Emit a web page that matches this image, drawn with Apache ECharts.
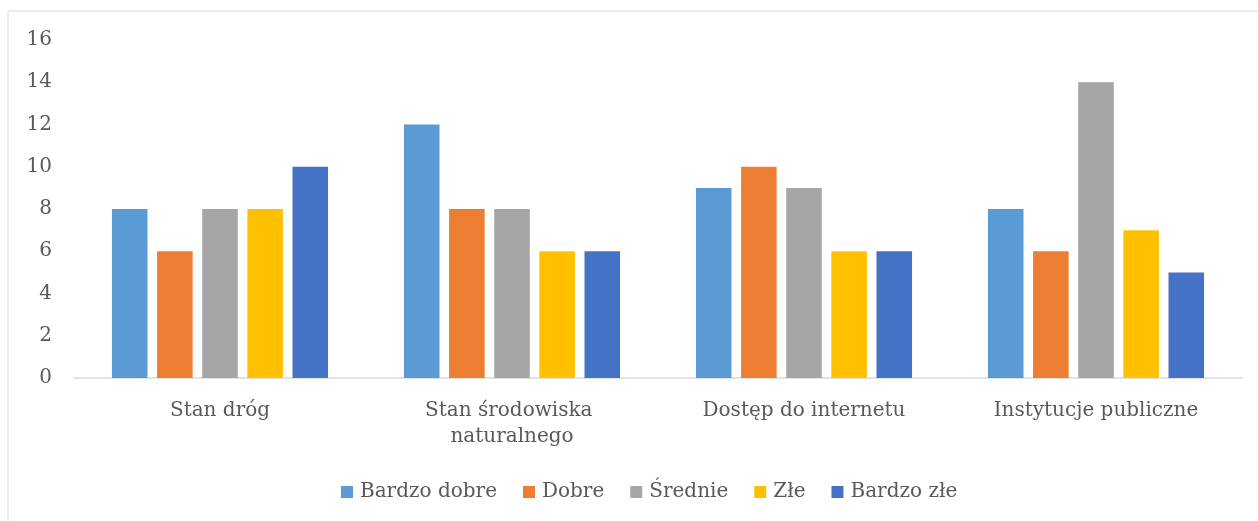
<!DOCTYPE html>
<html>
<head>
<meta charset="utf-8">
<script src="https://cdn.jsdelivr.net/npm/echarts@6/dist/echarts.min.js"></script>
<style>
	html, body { margin: 0; padding: 0; background: #fff; }
	#chart { width: 1258px; height: 521px; }
</style>
</head>
<body>
<div id="chart"></div>
<script>
var categories = ["Stan dróg", "Stan środowiska naturalnego", "Dostęp do internetu", "Instytucje publiczne"];
var seriesNames = ["Bardzo dobre", "Dobre", "Średnie", "Złe", "Bardzo złe"];
var bardzoDobre = [8, 12, 9, 8];
var dobre = [6, 8, 10, 6];
var srednie = [8, 8, 9, 14];
var zle = [8, 6, 6, 7];
var bardzoZle = [10, 6, 6, 5];
var yTicks = [0, 2, 4, 6, 8, 10, 12, 14, 16];

var colors = ["#5B9BD5", "#ED7D31", "#A5A5A5", "#FFC000", "#4472C4"];
var values = [bardzoDobre, dobre, srednie, zle, bardzoZle];
var font = "DejaVu Serif";

var chart = echarts.init(document.getElementById("chart"));

var series = [];
for (var i = 0; i < seriesNames.length; i++) {
	series.push({
		name: seriesNames[i],
		type: "bar",
		barGap: "27%",
		barCategoryGap: "26%",
		itemStyle: { color: colors[i] },
		data: values[i]
	});
}

chart.setOption({
	animation: false,
	color: colors,
	textStyle: { fontFamily: font, color: "#595959" },
	graphic: [
		{
			type: "rect",
			shape: { x: 8, y: 11, width: 1300, height: 600 },
			style: { fill: "none", stroke: "#d9d9d9", lineWidth: 1 }
		}
	],
	grid: {
		left: 74,
		right: 16,
		top: 40,
		bottom: 143
	},
	legend: {
		data: seriesNames,
		bottom: 14,
		left: 336,
		icon: "rect",
		itemWidth: 12,
		itemHeight: 12,
		itemGap: 26,
		textStyle: { fontFamily: font, fontSize: 20, color: "#595959", padding: [0, 0, 0, 2] }
	},
	xAxis: {
		type: "category",
		data: categories,
		axisLine: { lineStyle: { color: "#d9d9d9", width: 1.5 } },
		axisTick: { show: false },
		axisLabel: {
			interval: 0,
			margin: 20,
			width: 250,
			overflow: "break",
			lineHeight: 26,
			fontFamily: font,
			fontSize: 20,
			color: "#595959"
		}
	},
	yAxis: {
		type: "value",
		min: yTicks[0],
		max: yTicks[yTicks.length - 1],
		interval: 2,
		splitLine: { show: false },
		axisLine: { show: false },
		axisTick: { show: false },
		axisLabel: {
			margin: 22,
			fontFamily: font,
			fontSize: 20,
			color: "#595959"
		}
	},
	series: series
});
</script>
</body>
</html>
